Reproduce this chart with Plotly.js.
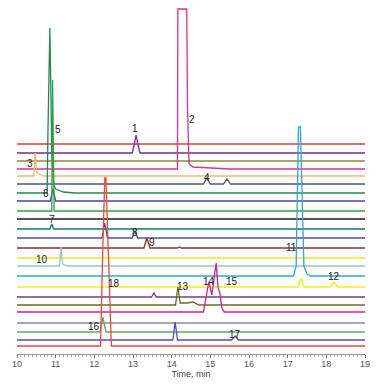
<!DOCTYPE html>
<html>
<head>
<meta charset="utf-8">
<script src="https://cdn.plot.ly/plotly-3.0.1.min.js"></script>
<style>html,body{margin:0;padding:0;background:#fff;}#chart{width:381px;height:385px;}</style>
</head>
<body>
<div id="chart"></div>
<script>
// Trace colours (top to bottom)
const colors = ["#e83a3a","#7a2a90","#8c8c30","#e0308c","#f0b878","#505868","#1f8a50","#4646b4",
  "#30a040","#1a1a1a","#107a6a","#5a4aa0","#8a3030","#e8e820","#98c8b8","#28a8e0",
  "#f0f020","#7a3a8a","#6a6a20","#d0208a","#a8a8a8","#60a860","#5a4ab0","#f04838"];
// Baseline level of each stacked chromatogram (detector units, arbitrary)
const baselines = [210,201,193,185,178,170,161,153,143,135,125,116,106,96,88,78,67,57,49,42,31,22,14,8];

// Retention times (min) and signal above baseline for each chromatogram
const t01 = [10,19];                                   const s01 = [0,0];
const t02 = [10,12.98,13.03,13.08,13.13,13.18,19];     const s02 = [0,0,8,18,8,0,0];
const t03 = [10,19];                                   const s03 = [0,0];
const t04 = [10,14.15,14.16,14.39,14.41,14.45,14.55,14.9,15.5,19]; const s04 = [0,0,160,160,60,5,2,1,0,0];
const t05 = [10,10.44,10.46,10.48,10.5,10.56,10.7,19]; const s05 = [0,0,22,22,4,2,0,0];
const t06 = [10,14.82,14.91,15.0,15.34,15.43,15.52,19]; const s06 = [0,0,6,0,0,5,0,0];
const t07 = [10,10.78,10.8,10.85,10.9,10.95,11.0,11.2,11.5,19]; const s07 = [0,0,60,165,40,8,4,1,0,0];
const t08 = [10,10.86,10.93,11.0,19];                  const s08 = [0,0,12,0,0];
const t09 = [10,10.9,10.92,10.94,10.96,19];            const s09 = [0,0,131,40,0,0];
const t10 = [10,19];                                   const s10 = [0,0];
const t11 = [10,10.85,10.9,10.95,19];                  const s11 = [0,0,5,0,0];
const t12 = [10,12.2,12.27,12.34,12.98,13.05,13.12,19]; const s12 = [0,0,15,0,0,7,0,0];
const t13 = [10,13.28,13.36,13.44,14.15,14.2,14.25,19]; const s13 = [0,0,10,0,0,1,0,0];
const t14 = [10,19];                                   const s14 = [0,0];
const t15 = [10,11.1,11.14,11.18,11.3,19];             const s15 = [0,0,19,2,0,0];
const t16 = [10,17.15,17.22,17.25,17.28,17.33,17.36,17.42,17.5,17.6,19]; const s16 = [0,0,10,100,149,149,100,10,2,0,0];
const t17 = [10,17.27,17.35,17.43,18.1,18.2,18.3,19];  const s17 = [0,0,9,0,0,5,0,0];
const t18 = [10,13.48,13.54,13.6,19];                  const s18 = [0,0,4,0,0];
const t19 = [10,14.1,14.16,14.22,14.4,14.55,14.7,19];  const s19 = [0,0,18,2,2,3,0,0];
const t20 = [10,14.82,14.96,15.04,15.15,15.2,15.24,15.3,15.36,19]; const s20 = [0,0,30,17,49,24,20,4,0,0];
const t21 = [10,19];                                   const s21 = [0,0];
const t22 = [10,12.15,12.22,12.3,19];                  const s22 = [0,0,15,0,0];
const t23 = [10,14.03,14.09,14.15,15.55,15.64,15.73,19]; const s23 = [0,0,18,0,0,4,0,0];
const t24 = [10,12.16,12.22,12.27,12.3,12.35,12.44,19]; const s24 = [0,0,100,168,168,100,0,0];

const times = [t01,t02,t03,t04,t05,t06,t07,t08,t09,t10,t11,t12,t13,t14,t15,t16,t17,t18,t19,t20,t21,t22,t23,t24];
const signals = [s01,s02,s03,s04,s05,s06,s07,s08,s09,s10,s11,s12,s13,s14,s15,s16,s17,s18,s19,s20,s21,s22,s23,s24];

// Peak labels
const peakLabels = ["1","2","3","4","5","6","7","8","9","10","11","12","13","14","15","16","17","18"];
const labelTimes = [13.06,14.53,10.34,14.91,11.06,10.75,10.9,13.05,13.48,10.65,17.1,18.2,14.3,14.97,15.55,12.0,15.64,12.5];
const labelLevels = [226,235,191,177,225,161,135,122,112,95,107,78,68,73,73,28,20,71];

const data = times.map((t,i)=>({
  x: t,
  y: signals[i].map(v=>v+baselines[i]),
  type:'scatter', mode:'lines',
  line:{color:colors[i], width:(i===20?2:1.3)},
  hoverinfo:'skip', showlegend:false
}));

const annotations = peakLabels.map((txt,i)=>({
  x: labelTimes[i], y: labelLevels[i], xref:'x', yref:'y',
  text: txt, showarrow:false,
  font:{family:'Liberation Sans, Arial, sans-serif', size:10, color:'#222'}
}));

const layout = {
  width:381, height:385,
  margin:{l:17, r:16, t:0, b:31},
  paper_bgcolor:'#fff', plot_bgcolor:'#fff',
  xaxis:{
    range:[10,19], showgrid:false, zeroline:false,
    showline:true, linecolor:'#999', linewidth:1,
    ticks:'outside', ticklen:3, tickcolor:'#777', dtick:1, tick0:10,
    ticklabelstandoff:-2,
    tickfont:{family:'Liberation Sans, Arial, sans-serif', size:9, color:'#555'},
    minor:{dtick:0.1, ticks:'outside', ticklen:2, tickcolor:'#aaa'},
    title:{text:'Time, min', font:{family:'Liberation Sans, Arial, sans-serif', size:9, color:'#444'}, standoff:0}
  },
  yaxis:{range:[0,354], visible:false, fixedrange:true},
  annotations: annotations
};

Plotly.newPlot('chart', data, layout, {staticPlot:true, displayModeBar:false});
</script>
</body>
</html>
